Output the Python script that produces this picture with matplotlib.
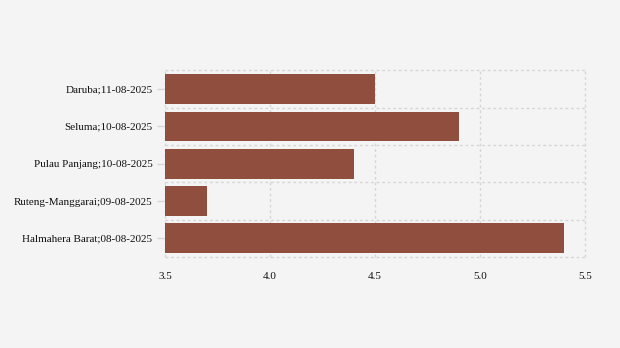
import matplotlib.pyplot as plt

plt.rcParams['font.family'] = ['Liberation Serif', 'DejaVu Serif']

labels = ['Daruba;11-08-2025', 'Seluma;10-08-2025', 'Pulau Panjang;10-08-2025',
          'Ruteng-Manggarai;09-08-2025', 'Halmahera Barat;08-08-2025']
values = [4.5, 4.9, 4.4, 3.7, 5.4]
xticks = [3.5, 4.0, 4.5, 5.0, 5.5]

bg = '#f4f4f4'
grid_c = '#d6d6d6'

fig = plt.figure(figsize=(6.2, 3.48), dpi=100, facecolor=bg)
ax = fig.add_axes([165 / 620, 1 - 257 / 348, 420 / 620, 186.5 / 348], facecolor=bg)

xmin = xticks[0]
pos = list(range(len(labels)))
ax.barh(pos, [v - xmin for v in values], left=xmin, height=0.8,
        color='#8b4535', alpha=0.95, zorder=2)

ax.set_xlim(xticks[0], xticks[-1])
ax.set_ylim(len(labels) - 0.5, -0.5)
ax.set_xticks(xticks)
ax.set_xticklabels([f'{t:.1f}' for t in xticks])
ax.set_yticks(pos)
ax.set_yticklabels(labels)

# category boundaries and value grid, dotted
for b in [i - 0.5 for i in range(len(labels) + 1)]:
    ax.axhline(b, color=grid_c, lw=1, ls=(0, (2, 2)), zorder=1, clip_on=False)
for t in xticks:
    ax.axvline(t, color=grid_c, lw=1, ls=(0, (2, 2)), zorder=1, clip_on=False)

for s in ax.spines.values():
    s.set_visible(False)

ax.tick_params(axis='x', length=0, pad=11, labelsize=8, colors='#111111')
ax.tick_params(axis='y', length=6, width=1, color=grid_c, pad=3,
               labelsize=8, labelcolor='#111111')

fig.savefig('out.png', dpi=100, facecolor=bg)
